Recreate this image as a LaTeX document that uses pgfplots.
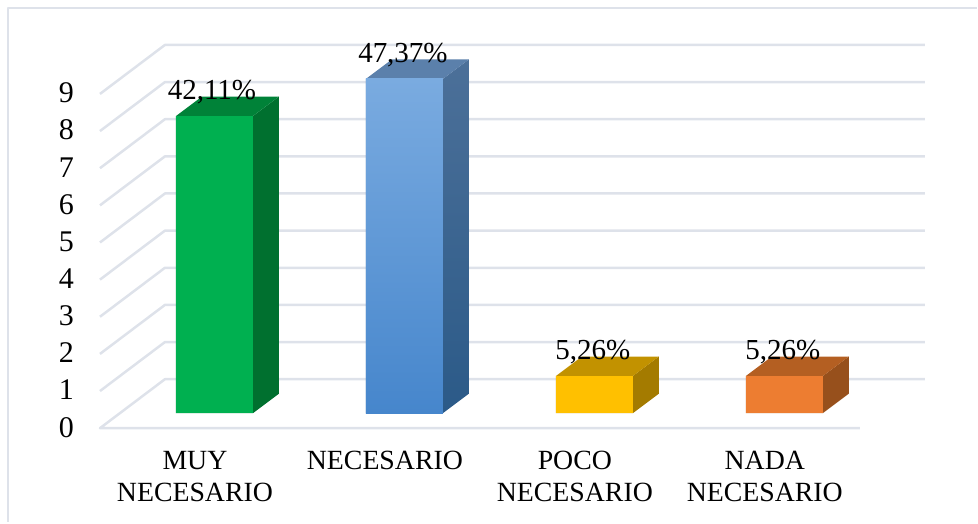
\documentclass[border=0pt]{standalone}
\usepackage{fontspec}
\setmainfont{Liberation Serif}
\usepackage{pgfplots}
\pgfplotsset{compat=1.18}
\definecolor{gridc}{HTML}{DEE2EA}
\definecolor{verde}{HTML}{00B050}
\definecolor{verdetop}{HTML}{008238}
\definecolor{verdeside}{HTML}{00702F}
\definecolor{azultop}{HTML}{5B80AB}
\definecolor{azulsideA}{HTML}{4C7099}
\definecolor{azulsideB}{HTML}{2B5A88}
\definecolor{azulA}{HTML}{7AABE0}
\definecolor{azulB}{HTML}{4686CC}
\definecolor{amarillo}{HTML}{FFC000}
\definecolor{amarillotop}{HTML}{C29200}
\definecolor{amarilloside}{HTML}{A47B00}
\definecolor{naranja}{HTML}{ED7D31}
\definecolor{naranjatop}{HTML}{B45F22}
\definecolor{naranjaside}{HTML}{97501C}
\begin{document}
\begin{tikzpicture}
\begin{axis}[
  scale only axis, width=760pt, height=334.35pt,
  xmin=-0.5, xmax=3.5, ymin=0, ymax=9,
  clip=false,
  axis line style={draw=none},
  tick style={draw=none},
  xtick={0,1,2,3},
  xticklabels={MUY\\NECESARIO, NECESARIO, POCO\\NECESARIO, NADA\\NECESARIO},
  ytick={0,1,2,3,4,5,6,7,8,9},
  /pgf/number format/assume math mode=true,
  x tick label style={font=\fontsize{27.8}{32}\selectfont, align=center, inner sep=0pt, anchor=north},
  y tick label style={font=\fontsize{30}{32}\selectfont, inner sep=0pt, yshift=-2.5pt},
  xtick pos=bottom, ytick pos=left,
  typeset ticklabels with strut=false,
  xticklabel shift=19pt, yticklabel shift=26pt,
  faces/.style={draw=none, forget plot, xshift=19.5pt, yshift=15pt},
  grid3d/.style={gridc, line width=2.5pt, forget plot, line join=round},
]
% picture size and frame
\path (axis cs:-1.0263,-2.522) rectangle (axis cs:4.1158,11.529);
\addplot[grid3d] coordinates {(-0.9842,-2.522) (-0.9842,11.314) (4.1158,11.314)};

% floor and walls
\addplot[grid3d] coordinates {(3.5,0) (-0.5,0) (-0.158,1.319) (3.842,1.319)};
\addplot[grid3d] coordinates {(-0.5,1) (-0.158,2.319) (3.842,2.319)};
\addplot[grid3d] coordinates {(-0.5,2) (-0.158,3.319) (3.842,3.319)};
\addplot[grid3d] coordinates {(-0.5,3) (-0.158,4.319) (3.842,4.319)};
\addplot[grid3d] coordinates {(-0.5,4) (-0.158,5.319) (3.842,5.319)};
\addplot[grid3d] coordinates {(-0.5,5) (-0.158,6.319) (3.842,6.319)};
\addplot[grid3d] coordinates {(-0.5,6) (-0.158,7.319) (3.842,7.319)};
\addplot[grid3d] coordinates {(-0.5,7) (-0.158,8.319) (3.842,8.319)};
\addplot[grid3d] coordinates {(-0.5,8) (-0.158,9.319) (3.842,9.319)};
\addplot[grid3d] coordinates {(-0.5,9) (-0.158,10.319) (3.842,10.319)};

% MUY NECESARIO
\addplot[faces, fill=verdeside] coordinates {(0.2026,0) (0.3395,0.525) (0.3395,8.525) (0.2026,8)} \closedcycle;
\addplot[faces, fill=verdetop] coordinates {(-0.2026,8) (-0.0658,8.525) (0.3395,8.525) (0.2026,8)} \closedcycle;
\addplot[ybar, bar width=77pt, bar shift=19.5pt, yshift=15pt, draw=none, fill=verde] coordinates {(0,8)};

% NECESARIO
\addplot[faces, top color=azulsideA, bottom color=azulsideB] coordinates {(1.2026,0) (1.3395,0.525) (1.3395,9.525) (1.2026,9)} \closedcycle;
\addplot[faces, fill=azultop] coordinates {(0.7974,9) (0.9342,9.525) (1.3395,9.525) (1.2026,9)} \closedcycle;
\addplot[ybar, bar width=77pt, bar shift=19.5pt, yshift=15pt, draw=none, top color=azulA, bottom color=azulB] coordinates {(1,9)};

% POCO NECESARIO
\addplot[faces, fill=amarilloside] coordinates {(2.2026,0) (2.3395,0.525) (2.3395,1.525) (2.2026,1)} \closedcycle;
\addplot[faces, fill=amarillotop] coordinates {(1.7974,1) (1.9342,1.525) (2.3395,1.525) (2.2026,1)} \closedcycle;
\addplot[ybar, bar width=77pt, bar shift=19.5pt, yshift=15pt, draw=none, fill=amarillo] coordinates {(2,1)};

% NADA NECESARIO
\addplot[faces, fill=naranjaside] coordinates {(3.2026,0) (3.3395,0.525) (3.3395,1.525) (3.2026,1)} \closedcycle;
\addplot[faces, fill=naranjatop] coordinates {(2.7974,1) (2.9342,1.525) (3.3395,1.525) (3.2026,1)} \closedcycle;
\addplot[ybar, bar width=77pt, bar shift=19.5pt, yshift=15pt, draw=none, fill=naranja] coordinates {(3,1)};

% data labels
\node[anchor=base, inner sep=0pt, font=\fontsize{29}{32}\selectfont] at (axis cs:0.0895,8.85) {42,11\%};
\node[anchor=base, inner sep=0pt, font=\fontsize{29}{32}\selectfont] at (axis cs:1.095,9.85) {47,37\%};
\node[anchor=base, inner sep=0pt, font=\fontsize{29}{32}\selectfont] at (axis cs:2.095,1.85) {5,26\%};
\node[anchor=base, inner sep=0pt, font=\fontsize{29}{32}\selectfont] at (axis cs:3.095,1.85) {5,26\%};
\end{axis}
\end{tikzpicture}
\end{document}
